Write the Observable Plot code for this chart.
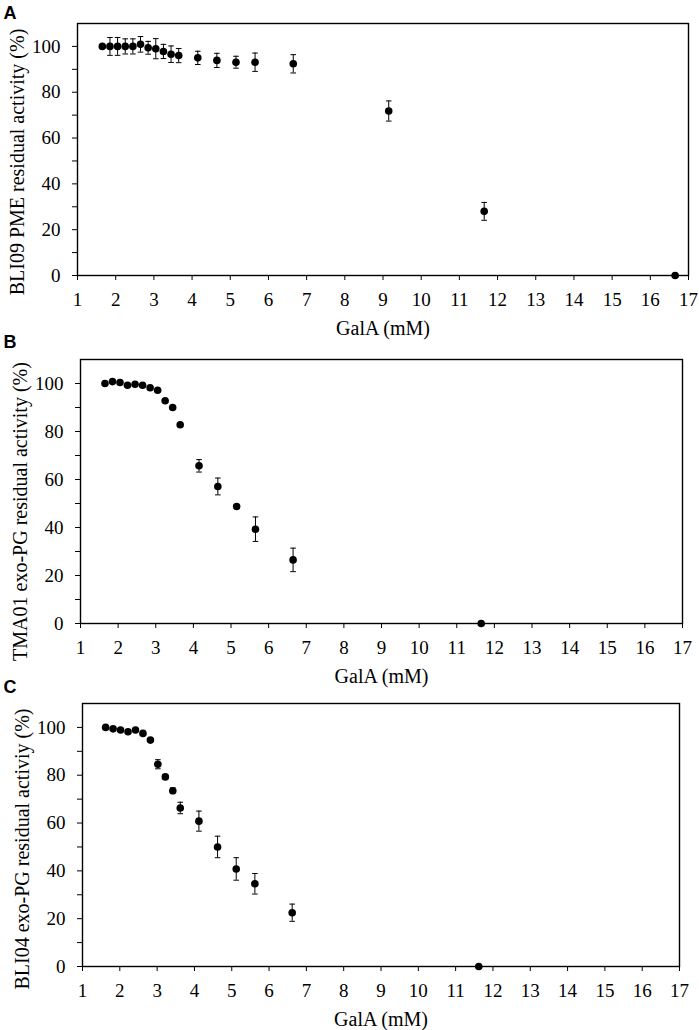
<!DOCTYPE html>
<html>
<head>
<meta charset="utf-8">
<script src="https://cdn.jsdelivr.net/npm/d3@7"></script>
<script src="https://cdn.jsdelivr.net/npm/@observablehq/plot@0.6"></script>
<style>
  body { margin: 0; background: white; }
  #chart { position: relative; width: 699px; height: 1030px; }
</style>
</head>
<body>
<div id="chart"></div>
<script>
// ---- data ----
const xTicks = [1,2,3,4,5,6,7,8,9,10,11,12,13,14,15,16,17];
const yMajor = [0,20,40,60,80,100];
const yMinor = [10,30,50,70,90];
const xLabel = "GalA (mM)";

// Panel A: BLI09 PME
const xA = [1.65,1.85,2.05,2.25,2.45,2.65,2.85,3.05,3.25,3.45,3.65,4.15,4.65,5.15,5.65,6.65,9.15,11.65,16.65];
const yA = [100,100,100,100,100,100.9,99.4,99,97.8,96.6,96,95,93.9,93.1,93.1,92.4,71.8,28,0];
const eA = [0,3.9,3.9,3.3,3.3,3.4,2.8,4.4,3.1,3.6,3.1,2.9,3.1,2.6,4,4,4.4,3.9,0];

// Panel B: TMA01 exo-PG
const xB = [1.65,1.85,2.05,2.25,2.45,2.65,2.85,3.05,3.25,3.45,3.65,4.15,4.65,5.15,5.65,6.65,11.65];
const yB = [100,100.8,100.4,99.3,99.7,99.3,98.2,97.2,92.8,90,82.8,65.7,57.1,48.75,39.3,26.5,0];
const eB = [0,0,0,0,0,0,0,0,0,0.6,0,2.6,3.5,0.8,5.1,4.9,0];

// Panel C: BLI04 exo-PG
const xC = [1.62,1.82,2.02,2.22,2.42,2.62,2.82,3.02,3.22,3.42,3.62,4.12,4.62,5.12,5.62,6.62,11.62];
const yC = [100,99.4,98.9,98.2,98.9,97.5,94.7,84.6,79.3,73.5,66.3,60.8,50,40.8,34.6,22.5,0];
const eC = [0,0,0,0,0,0,0,1.9,1.0,1.2,2.4,4.2,4.5,4.7,4.3,3.6,0];

const panels = [
  {letter: "A", ylabel: "BLI09 PME residual activity (%)", xs: xA, ys: yA, es: eA,
   top: 0, height: 340, mt: 23, mb: 65, ml: 77, mr: 11, labDy: 12.5, letDx: -74, letDy: -16.8},
  {letter: "B", ylabel: "TMA01 exo-PG residual activity (%)", xs: xB, ys: yB, es: eB,
   top: 340, height: 345, mt: 19, mb: 62, ml: 80, mr: 17, labDy: 20, letDx: -77, letDy: -23.8},
  {letter: "C", ylabel: "BLI04 exo-PG residual activiy (%)", xs: xC, ys: yC, es: eC,
   top: 685, height: 345, mt: 18, mb: 64, ml: 82, mr: 20, labDy: 14, letDx: -79, letDy: -22.8}
];

const capSymbol = { draw(ctx) { ctx.moveTo(-2.8, 0); ctx.lineTo(2.8, 0); } };
const serif = "'Liberation Serif', 'Times New Roman', Times, serif";
const blank = () => "";

const chart = document.getElementById("chart");
for (const p of panels) {
  const data = p.xs.map((x, i) => ({x, y: p.ys[i], e: p.es[i]}));
  const bars = data.filter(d => d.e > 0);
  const svg = Plot.plot({
    width: 699,
    height: p.height,
    marginTop: p.mt, marginBottom: p.mb, marginLeft: p.ml, marginRight: p.mr,
    x: {type: "linear", domain: [1, 17], axis: null},
    y: {type: "linear", domain: [0, 110], axis: null},
    marks: [
      // tick marks
      Plot.axisX(xTicks, {tickSize: 5, tickFormat: blank, label: null, stroke: "black", strokeWidth: 1}),
      Plot.axisY(yMajor, {tickSize: 5, tickFormat: blank, label: null, stroke: "black", strokeWidth: 1}),
      Plot.axisY(yMinor, {tickSize: 5, tickFormat: blank, label: null, stroke: "black", strokeWidth: 1}),
      // tick labels
      Plot.text(xTicks, {x: d => d, text: d => String(d), frameAnchor: "bottom", dy: 17, lineAnchor: "top",
        fontSize: 19, fontFamily: serif, fill: "black"}),
      Plot.text(yMajor, {y: d => d, text: d => String(d), frameAnchor: "left", dx: -17, textAnchor: "end",
        lineAnchor: "middle", fontSize: 19, fontFamily: serif, fill: "black"}),
      Plot.frame({stroke: "black", strokeWidth: 1.4}),
      // error bars
      Plot.ruleX(bars, {x: "x", y1: d => d.y - d.e, y2: d => d.y + d.e, stroke: "black", strokeWidth: 1}),
      Plot.dot(bars, {x: "x", y: d => d.y + d.e, symbol: capSymbol, fill: "none", stroke: "black", strokeWidth: 1}),
      Plot.dot(bars, {x: "x", y: d => d.y - d.e, symbol: capSymbol, fill: "none", stroke: "black", strokeWidth: 1}),
      // points
      Plot.dot(data, {x: "x", y: "y", r: 3.8, fill: "black", stroke: null}),
      // axis titles
      Plot.text([xLabel], {text: d => d, frameAnchor: "bottom", dy: 45, lineAnchor: "top",
        fontSize: 20, fontFamily: serif, fill: "black"}),
      Plot.text([p.ylabel], {text: d => d, frameAnchor: "left", rotate: -90, dx: -60, dy: p.labDy,
        lineAnchor: "middle", textAnchor: "middle", fontSize: 20, fontFamily: serif, fill: "black"}),
      // panel letter
      Plot.text([p.letter], {text: d => d, frameAnchor: "top-left", dx: p.letDx, dy: p.letDy,
        textAnchor: "start", lineAnchor: "top", fontSize: 18, fontWeight: "bold",
        fontFamily: "'Liberation Sans', Arial, sans-serif", fill: "black"})
    ]
  });
  svg.style.position = "absolute";
  svg.style.left = "0px";
  svg.style.top = p.top + "px";
  svg.style.overflow = "visible";
  svg.style.background = "transparent";
  svg.style.maxWidth = "none";
  chart.appendChild(svg);
}
</script>
</body>
</html>
